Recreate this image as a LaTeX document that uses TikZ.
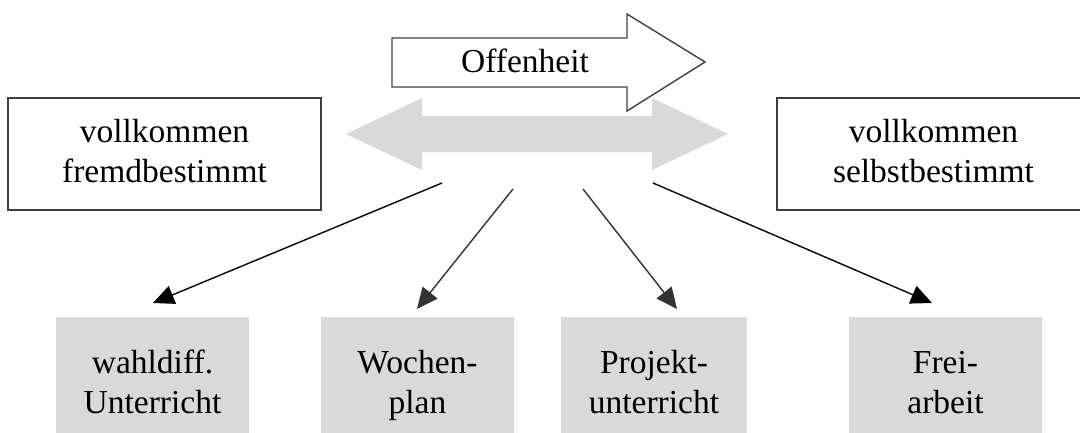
\documentclass[tikz,border=0pt]{standalone}
\usepackage{fontspec}
\setmainfont{Liberation Serif}
\usetikzlibrary{arrows.meta}
\definecolor{boxgray}{HTML}{D9D9D9}
\definecolor{edgegray}{HTML}{404040}
\definecolor{linegray}{HTML}{333333}
\tikzset{
  txt/.style={font=\fontsize{33.5}{40}\selectfont, align=center, inner sep=0pt},
  endbox/.style={txt, draw=edgegray, line width=1.6pt, fill=white,
    minimum width=313pt, minimum height=112pt},
  formbox/.style={txt, fill=boxgray, minimum height=136pt},
  link/.style={line width=1.4pt, -{Triangle[length=21pt,width=19pt]}},
}
\begin{document}
\begin{tikzpicture}[x=1pt,y=-1pt]
  \useasboundingbox (0,0) rectangle (1080,432);
  \clip (0,0) rectangle (1080,432);

  % broad grey double arrow (scale of openness)
  \fill[boxgray] (346,134) -- (422,98) -- (422,116) -- (652,116) -- (652,98)
    -- (728,134) -- (652,170) -- (652,152) -- (422,152) -- (422,170) -- cycle;

  % outlined arrow "Offenheit"
  \draw[edgegray, line width=1.4pt, fill=white, line join=miter]
    (392,38) -- (627,38) -- (627,14) -- (705,62) -- (627,111) -- (627,87)
    -- (392,87) -- cycle;
  \node[txt, anchor=base] (offen) at (525,72) {Offenheit};

  % the two ends of the scale
  \node[endbox] (fremd) at (164.5,154) {\strut vollkommen\\\strut fremdbestimmt};
  \node[endbox] (selbst) at (933.5,154) {\strut vollkommen\\\strut selbstbestimmt};

  % forms of teaching
  \node[formbox, minimum width=193pt] (wahl) at (152.5,385) {\strut wahldiff.\\\strut Unterricht};
  \node[formbox, minimum width=193pt] (woche) at (417.5,385) {\strut Wochen-\\\strut plan};
  \node[formbox, minimum width=186pt] (projekt) at (654,385) {\strut Projekt-\\\strut unterricht};
  \node[formbox, minimum width=193pt] (frei) at (945.5,385) {\strut Frei-\\\strut arbeit};

  % connectors from the scale down to the forms
  \coordinate (s1) at (442,183);
  \coordinate (s2) at (513,189);
  \coordinate (s3) at (583,189);
  \coordinate (s4) at (653,183);
  \coordinate (t1) at (153,303);
  \coordinate (t2) at (417,309);
  \coordinate (t3) at (677,309);
  \coordinate (t4) at (932,303);
  \draw[link, black] (s1) -- (t1);
  \draw[link, linegray] (s2) -- (t2);
  \draw[link, linegray] (s3) -- (t3);
  \draw[link, black] (s4) -- (t4);
\end{tikzpicture}
\end{document}
